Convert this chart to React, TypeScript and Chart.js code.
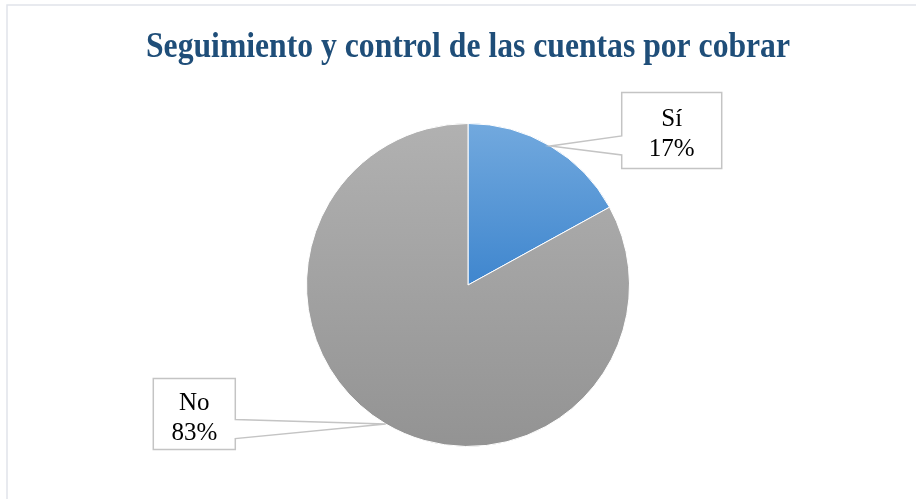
import React, { useEffect, useRef } from "react";
import { Chart, registerables } from "chart.js";

Chart.register(...registerables);

const TITLE = "Seguimiento y control de las cuentas por cobrar";
const categories = ["Sí", "No"];
const values = [17, 83];
const percentLabels = ["17%", "83%"];

const W = 916;
const H = 499;

// style config (not data)
const gradients = [
  ["#72A9DE", "#3F86CE"],
  ["#B1B1B1", "#939393"],
];
const boxOffsets = [
  { dx: 121.5, dy: -15.6, w: 100, h: 76 },
  { dx: -191.5, dy: -9.9, w: 82, h: 71 },
];

export default function App() {
  const ref = useRef<HTMLCanvasElement | null>(null);

  useEffect(() => {
    const canvas = ref.current;
    if (!canvas) return;

    const framePlugin = {
      id: "frame",
      beforeDraw(chart: any) {
        const ctx = chart.ctx;
        ctx.save();
        ctx.fillStyle = "#ffffff";
        ctx.fillRect(0, 0, W, H);
        ctx.strokeStyle = "#E1E4EA";
        ctx.lineWidth = 1.5;
        ctx.beginPath();
        ctx.moveTo(W, 5);
        ctx.lineTo(7, 5);
        ctx.lineTo(7, H);
        ctx.stroke();
        ctx.fillStyle = "#1F4E79";
        ctx.font = "bold 36px 'Liberation Serif', 'Times New Roman', serif";
        ctx.textAlign = "center";
        ctx.textBaseline = "alphabetic";
        ctx.fillText(TITLE, 468, 57, 644);
        ctx.restore();
      },
    };

    const calloutPlugin = {
      id: "callouts",
      afterDatasetsDraw(chart: any) {
        const ctx = chart.ctx;
        const meta = chart.getDatasetMeta(0);
        meta.data.forEach((arc: any, i: number) => {
          const p = arc.getProps(["x", "y", "startAngle", "endAngle", "outerRadius"], true);
          const mid = (p.startAngle + p.endAngle) / 2;
          const ax = p.x + Math.cos(mid) * p.outerRadius;
          const ay = p.y + Math.sin(mid) * p.outerRadius;
          const o = boxOffsets[i];
          const cx = ax + o.dx;
          const cy = ay + o.dy;
          const L = cx - o.w / 2;
          const R = cx + o.w / 2;
          const T = cy - o.h / 2;
          const B = cy + o.h / 2;
          const y1 = cy + 5.5;
          const y2 = cy + 24.5;
          ctx.save();
          ctx.beginPath();
          if (ax < L) {
            ctx.moveTo(L, T);
            ctx.lineTo(R, T);
            ctx.lineTo(R, B);
            ctx.lineTo(L, B);
            ctx.lineTo(L, y2);
            ctx.lineTo(ax, ay);
            ctx.lineTo(L, y1);
            ctx.closePath();
          } else {
            ctx.moveTo(L, T);
            ctx.lineTo(R, T);
            ctx.lineTo(R, y1);
            ctx.lineTo(ax, ay);
            ctx.lineTo(R, y2);
            ctx.lineTo(R, B);
            ctx.lineTo(L, B);
            ctx.closePath();
          }
          ctx.fillStyle = "#ffffff";
          ctx.fill();
          ctx.strokeStyle = "#C4C4C4";
          ctx.lineWidth = 1.5;
          ctx.stroke();
          ctx.fillStyle = "#000000";
          ctx.font = "25px 'Liberation Serif', 'Times New Roman', serif";
          ctx.textAlign = "center";
          ctx.textBaseline = "alphabetic";
          ctx.fillText(categories[i], cx, cy - 4);
          ctx.fillText(percentLabels[i], cx, cy + 26);
          ctx.restore();
        });
      },
    };

    const chart = new Chart(canvas, {
      type: "pie",
      data: {
        labels: categories,
        datasets: [
          {
            data: values,
            backgroundColor: (c: any) => {
              const ch = c.chart;
              const area = ch.chartArea;
              if (!area) return gradients[c.dataIndex % 2][0];
              const idx = c.dataIndex;
              const top = area.top;
              const bottom = idx === 0 ? (area.top + area.bottom) / 2 : area.bottom;
              const g = ch.ctx.createLinearGradient(0, top, 0, bottom);
              g.addColorStop(0, gradients[idx][0]);
              g.addColorStop(1, gradients[idx][1]);
              return g;
            },
            borderColor: "#ffffff",
            borderWidth: 1,
          },
        ],
      },
      options: {
        responsive: false,
        maintainAspectRatio: false,
        animation: false,
        layout: { padding: { left: 306, right: 286, top: 123, bottom: 52 } },
        plugins: {
          legend: { display: false },
          tooltip: { enabled: false },
          title: { display: false },
        },
      },
      plugins: [framePlugin, calloutPlugin],
    });

    return () => chart.destroy();
  }, []);

  return (
    <div style={{ position: "absolute", left: 0, top: 0, width: W, height: H, background: "#fff" }}>
      <canvas ref={ref} width={W} height={H} style={{ width: W, height: H, display: "block" }} />
    </div>
  );
}
